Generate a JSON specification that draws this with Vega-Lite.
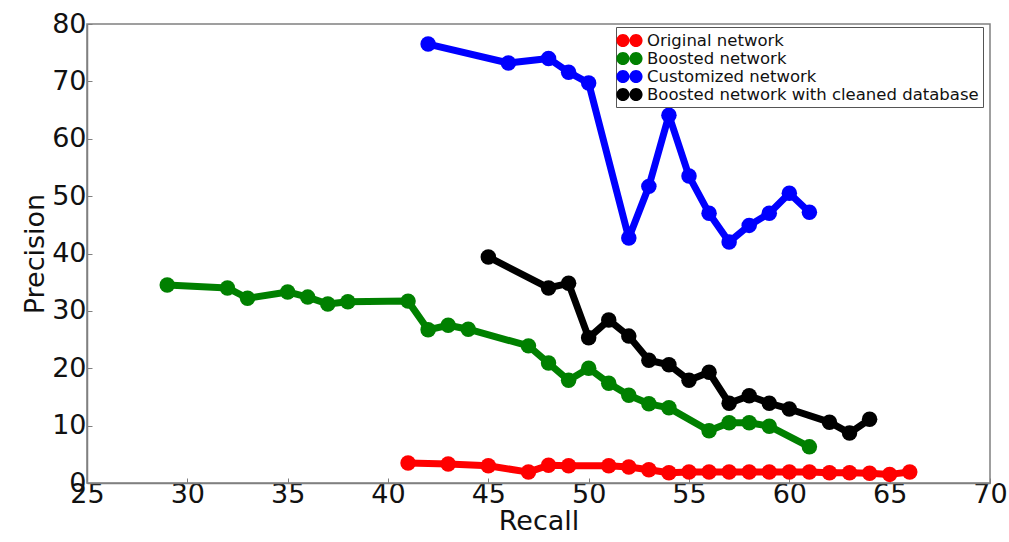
{
  "$schema": "https://vega.github.io/schema/vega-lite/v6.json",
  "autosize": "none",
  "width": 903,
  "height": 459,
  "padding": {"left": 87, "top": 24, "right": 19, "bottom": 59},
  "background": "white",
  "config": {
    "view": {"stroke": "#808080", "strokeWidth": 1.5},
    "font": "DejaVu Sans",
    "axis": {
      "grid": false,
      "domainColor": "#808080",
      "domainWidth": 1.5,
      "tickColor": "#808080",
      "tickSize": -5,
      "labelFont": "DejaVu Sans",
      "labelFontSize": 27,
      "labelColor": "#111111",
      "titleFont": "DejaVu Sans",
      "titleFontSize": 27,
      "titleFontWeight": "normal",
      "titleColor": "#111111"
    }
  },
  "data": {
    "values": [
      {"series": "Original network", "recall": 41, "precision": 3.5},
      {"series": "Original network", "recall": 43, "precision": 3.3},
      {"series": "Original network", "recall": 45, "precision": 3.0},
      {"series": "Original network", "recall": 47, "precision": 1.9},
      {"series": "Original network", "recall": 48, "precision": 3.1},
      {"series": "Original network", "recall": 49, "precision": 3.0},
      {"series": "Original network", "recall": 51, "precision": 3.0},
      {"series": "Original network", "recall": 52, "precision": 2.8},
      {"series": "Original network", "recall": 53, "precision": 2.3},
      {"series": "Original network", "recall": 54, "precision": 1.8},
      {"series": "Original network", "recall": 55, "precision": 1.9},
      {"series": "Original network", "recall": 56, "precision": 1.9},
      {"series": "Original network", "recall": 57, "precision": 1.9},
      {"series": "Original network", "recall": 58, "precision": 1.9},
      {"series": "Original network", "recall": 59, "precision": 1.9},
      {"series": "Original network", "recall": 60, "precision": 1.9},
      {"series": "Original network", "recall": 61, "precision": 1.9},
      {"series": "Original network", "recall": 62, "precision": 1.8},
      {"series": "Original network", "recall": 63, "precision": 1.8},
      {"series": "Original network", "recall": 64, "precision": 1.7},
      {"series": "Original network", "recall": 65, "precision": 1.5},
      {"series": "Original network", "recall": 66, "precision": 1.9},
      {"series": "Boosted network", "recall": 29, "precision": 34.5},
      {"series": "Boosted network", "recall": 32, "precision": 34.0},
      {"series": "Boosted network", "recall": 33, "precision": 32.2},
      {"series": "Boosted network", "recall": 35, "precision": 33.3},
      {"series": "Boosted network", "recall": 36, "precision": 32.4},
      {"series": "Boosted network", "recall": 37, "precision": 31.2},
      {"series": "Boosted network", "recall": 38, "precision": 31.6},
      {"series": "Boosted network", "recall": 41, "precision": 31.7},
      {"series": "Boosted network", "recall": 42, "precision": 26.7},
      {"series": "Boosted network", "recall": 43, "precision": 27.5},
      {"series": "Boosted network", "recall": 44, "precision": 26.8},
      {"series": "Boosted network", "recall": 47, "precision": 23.9},
      {"series": "Boosted network", "recall": 48, "precision": 20.9},
      {"series": "Boosted network", "recall": 49, "precision": 17.9},
      {"series": "Boosted network", "recall": 50, "precision": 20.0},
      {"series": "Boosted network", "recall": 51, "precision": 17.4},
      {"series": "Boosted network", "recall": 52, "precision": 15.3},
      {"series": "Boosted network", "recall": 53, "precision": 13.8},
      {"series": "Boosted network", "recall": 54, "precision": 13.1},
      {"series": "Boosted network", "recall": 56, "precision": 9.1},
      {"series": "Boosted network", "recall": 57, "precision": 10.5},
      {"series": "Boosted network", "recall": 58, "precision": 10.5},
      {"series": "Boosted network", "recall": 59, "precision": 9.9},
      {"series": "Boosted network", "recall": 61, "precision": 6.3},
      {"series": "Customized network", "recall": 42, "precision": 76.5},
      {"series": "Customized network", "recall": 46, "precision": 73.2},
      {"series": "Customized network", "recall": 48, "precision": 74.0},
      {"series": "Customized network", "recall": 49, "precision": 71.6},
      {"series": "Customized network", "recall": 50, "precision": 69.7},
      {"series": "Customized network", "recall": 52, "precision": 42.7},
      {"series": "Customized network", "recall": 53, "precision": 51.7},
      {"series": "Customized network", "recall": 54, "precision": 64.1},
      {"series": "Customized network", "recall": 55, "precision": 53.5},
      {"series": "Customized network", "recall": 56, "precision": 47.0},
      {"series": "Customized network", "recall": 57, "precision": 42.0},
      {"series": "Customized network", "recall": 58, "precision": 44.9},
      {"series": "Customized network", "recall": 59, "precision": 47.0},
      {"series": "Customized network", "recall": 60, "precision": 50.5},
      {"series": "Customized network", "recall": 61, "precision": 47.2},
      {"series": "Boosted network with cleaned database", "recall": 45, "precision": 39.4},
      {"series": "Boosted network with cleaned database", "recall": 48, "precision": 34.0},
      {"series": "Boosted network with cleaned database", "recall": 49, "precision": 34.8},
      {"series": "Boosted network with cleaned database", "recall": 50, "precision": 25.3},
      {"series": "Boosted network with cleaned database", "recall": 51, "precision": 28.4},
      {"series": "Boosted network with cleaned database", "recall": 52, "precision": 25.6},
      {"series": "Boosted network with cleaned database", "recall": 53, "precision": 21.4},
      {"series": "Boosted network with cleaned database", "recall": 54, "precision": 20.6},
      {"series": "Boosted network with cleaned database", "recall": 55, "precision": 17.9},
      {"series": "Boosted network with cleaned database", "recall": 56, "precision": 19.3},
      {"series": "Boosted network with cleaned database", "recall": 57, "precision": 13.9},
      {"series": "Boosted network with cleaned database", "recall": 58, "precision": 15.2},
      {"series": "Boosted network with cleaned database", "recall": 59, "precision": 13.9},
      {"series": "Boosted network with cleaned database", "recall": 60, "precision": 12.9},
      {"series": "Boosted network with cleaned database", "recall": 62, "precision": 10.6},
      {"series": "Boosted network with cleaned database", "recall": 63, "precision": 8.7},
      {"series": "Boosted network with cleaned database", "recall": 64, "precision": 11.1}
    ]
  },
  "encoding": {
    "x": {
      "field": "recall", "type": "quantitative",
      "scale": {"domain": [25, 70], "nice": false, "zero": false},
      "axis": {"values": [25, 30, 35, 40, 45, 50, 55, 60, 65, 70], "title": "Recall", "labelPadding": 3, "titlePadding": 1, "labelFlush": false}
    },
    "y": {
      "field": "precision", "type": "quantitative",
      "scale": {"domain": [0, 80], "nice": false},
      "axis": {"values": [0, 10, 20, 30, 40, 50, 60, 70, 80], "title": "Precision", "labelPadding": 6, "titlePadding": 2, "labelFlush": false}
    },
    "color": {
      "field": "series", "type": "nominal",
      "scale": {
        "domain": ["Original network", "Boosted network", "Customized network", "Boosted network with cleaned database"],
        "range": ["#ff0000", "#008000", "#0000ff", "#000000"]
      },
      "legend": {
        "title": null,
        "orient": "none",
        "legendX": 529,
        "legendY": 3,
        "direction": "vertical",
        "fillColor": "white",
        "strokeColor": "#555555",
        "padding": 4,
        "labelFont": "DejaVu Sans",
        "labelFontSize": 16.5,
        "labelColor": "#111111",
        "labelOffset": 8,
        "labelLimit": 0,
        "rowPadding": 0,
        "symbolType": "M -1.44 0 A 0.72 0.72 0 1 0 0 0 A 0.72 0.72 0 1 0 -1.44 0 Z M 0 0 A 0.72 0.72 0 1 0 1.44 0 A 0.72 0.72 0 1 0 0 0 Z",
        "symbolSize": 330,
        "symbolStrokeWidth": 0,
        "symbolOpacity": 1
      }
    }
  },
  "layer": [
    {
      "mark": {"type": "line", "strokeWidth": 7, "strokeJoin": "round"}
    },
    {
      "mark": {"type": "point", "filled": true, "opacity": 1, "size": 240, "shape": "circle"}
    }
  ]
}
